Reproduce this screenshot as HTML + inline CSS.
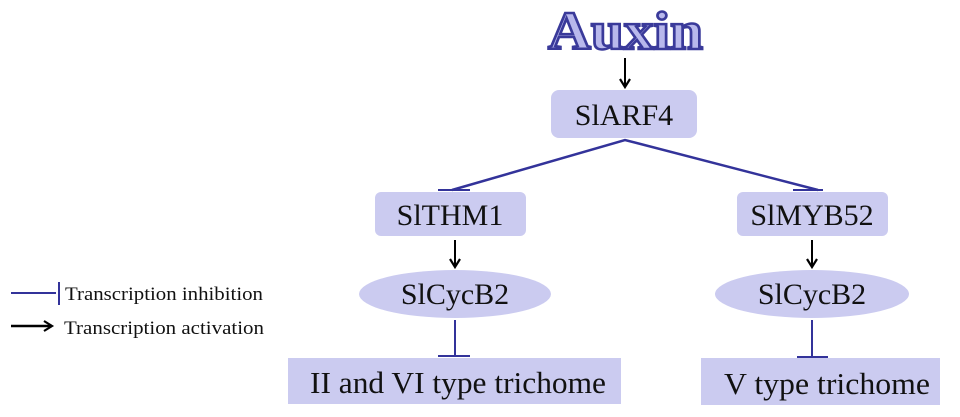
<!DOCTYPE html>
<html><head><meta charset="utf-8"><style>
html,body{margin:0;padding:0;background:#fff;width:960px;height:417px;overflow:hidden}
text{font-family:"Liberation Serif",serif;fill:#111}
</style></head><body>
<svg width="960" height="417" viewBox="0 0 960 417" xmlns="http://www.w3.org/2000/svg">
<defs>
<marker id="ah" markerWidth="12" markerHeight="12" refX="9" refY="6" orient="auto" markerUnits="userSpaceOnUse">
<path d="M1,1 L9,6 L1,11" fill="none" stroke="#000" stroke-width="2.2"/>
</marker>
</defs>
<text x="548" y="49" textLength="155" lengthAdjust="spacingAndGlyphs" style="font-size:54px;font-weight:bold;fill:#b8b8ec;stroke:#3a3a9a;stroke-width:2.5">Auxin</text>
<line x1="625" y1="58" x2="625" y2="87" stroke="#000" stroke-width="2" marker-end="url(#ah)"/>
<rect x="551" y="90" width="146" height="48" rx="8" fill="#cbcbf0"/>
<text x="624" y="125" text-anchor="middle" font-size="30">SlARF4</text>
<polyline points="452,190 625,140 818,190" fill="none" stroke="#33339a" stroke-width="2.5"/>
<line x1="438" y1="190" x2="470" y2="190" stroke="#33339a" stroke-width="2"/>
<line x1="793" y1="190" x2="823" y2="190" stroke="#33339a" stroke-width="2"/>
<rect x="375" y="192" width="151" height="44" rx="6" fill="#cbcbf0"/>
<text x="450" y="225" text-anchor="middle" font-size="30">SlTHM1</text>
<rect x="737" y="192" width="151" height="44" rx="6" fill="#cbcbf0"/>
<text x="812" y="225" text-anchor="middle" font-size="30">SlMYB52</text>
<line x1="455" y1="240" x2="455" y2="267" stroke="#000" stroke-width="2" marker-end="url(#ah)"/>
<line x1="812" y1="240" x2="812" y2="267" stroke="#000" stroke-width="2" marker-end="url(#ah)"/>
<ellipse cx="455" cy="294" rx="96" ry="24" fill="#cbcbf0"/>
<text x="455" y="304" text-anchor="middle" font-size="30">SlCycB2</text>
<ellipse cx="812" cy="294" rx="97" ry="24" fill="#cbcbf0"/>
<text x="812" y="304" text-anchor="middle" font-size="30">SlCycB2</text>
<line x1="455" y1="320" x2="455" y2="356" stroke="#33339a" stroke-width="2"/>
<line x1="438" y1="356" x2="470" y2="356" stroke="#33339a" stroke-width="2"/>
<line x1="812" y1="320" x2="812" y2="357" stroke="#33339a" stroke-width="2"/>
<line x1="797" y1="357" x2="828" y2="357" stroke="#33339a" stroke-width="2"/>
<rect x="288" y="358" width="333" height="46" fill="#cbcbf0"/>
<text x="310" y="393" textLength="296" lengthAdjust="spacingAndGlyphs" font-size="31">II and VI type trichome</text>
<rect x="701" y="358" width="239" height="47" fill="#cbcbf0"/>
<text x="724" y="394" textLength="206" lengthAdjust="spacingAndGlyphs" font-size="31">V type trichome</text>
<line x1="11" y1="293" x2="56" y2="293" stroke="#33339a" stroke-width="2"/>
<line x1="59" y1="282" x2="59" y2="305" stroke="#33339a" stroke-width="2"/>
<text x="65" y="300" textLength="198" lengthAdjust="spacingAndGlyphs" font-size="19">Transcription inhibition</text>
<line x1="11" y1="326" x2="52" y2="326" stroke="#000" stroke-width="2.5" marker-end="url(#ah)"/>
<text x="64" y="334" textLength="200" lengthAdjust="spacingAndGlyphs" font-size="19">Transcription activation</text>
</svg>
</body></html>
